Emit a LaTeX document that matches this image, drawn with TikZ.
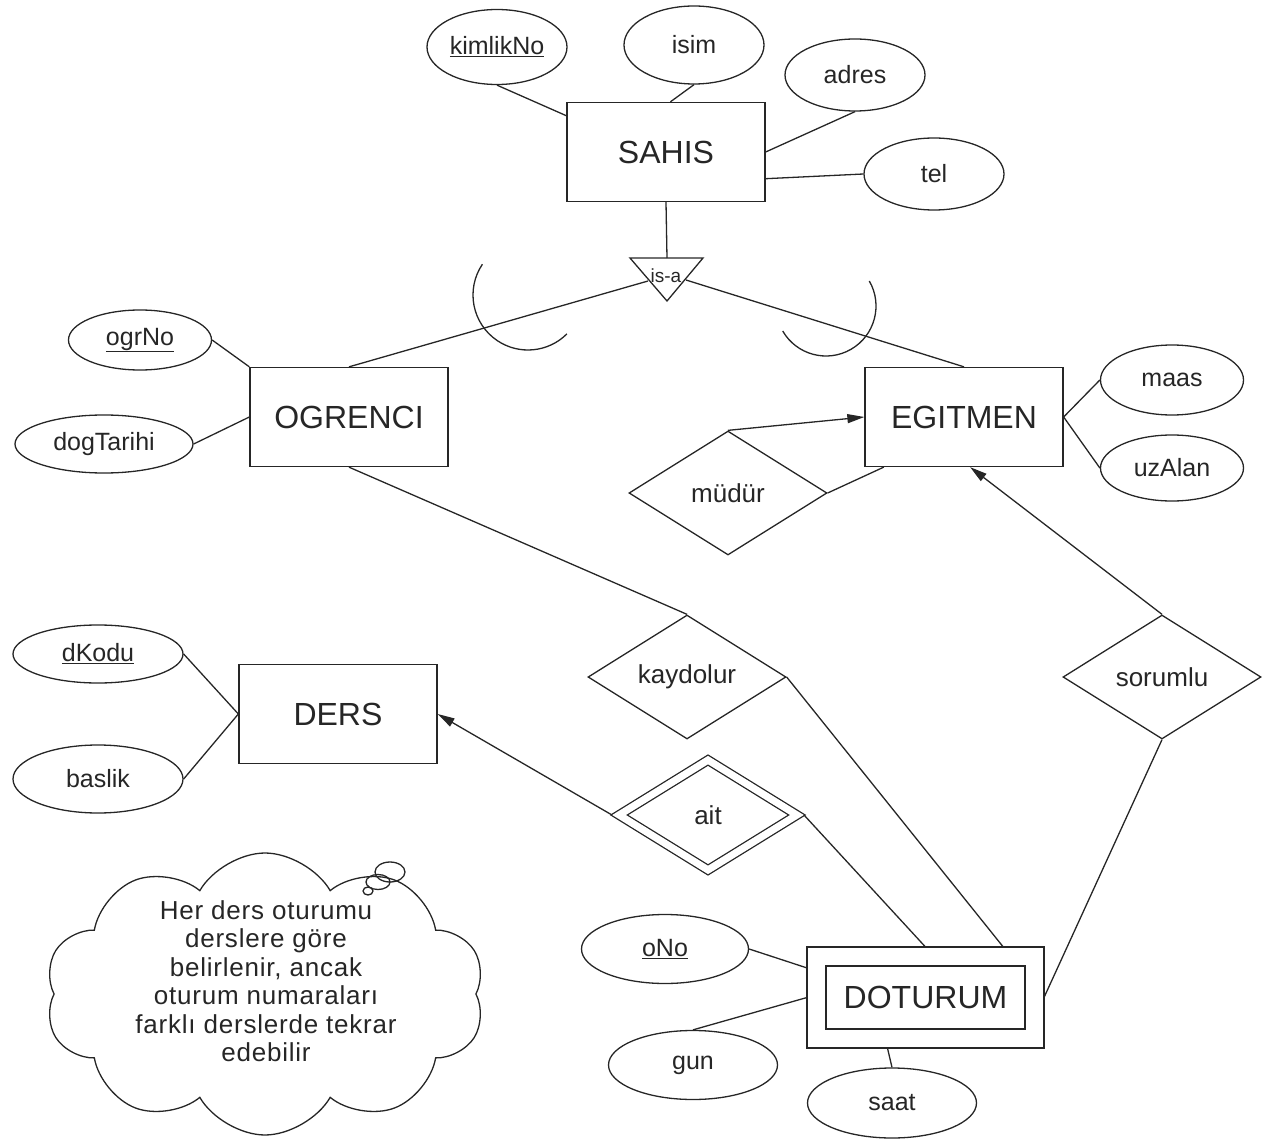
\documentclass[tikz,border=0pt]{standalone}
\usepackage{fontspec}
\setmainfont{Liberation Sans}
\usetikzlibrary{shapes.geometric}
\usetikzlibrary{shapes.symbols}
\usetikzlibrary{arrows.meta}

\tikzset{
  entity/.style={draw, rectangle, minimum width=198, minimum height=99, inner sep=0,
    font=\fontsize{32}{36}\selectfont},
  attr/.style={draw, ellipse, minimum width=140, minimum height=70, inner sep=0,
    font=\fontsize{25}{30}\selectfont},
  rel/.style={draw, diamond, minimum width=198, minimum height=124, inner sep=0,
    font=\fontsize{26}{30}\selectfont},
}

\begin{document}
\begin{tikzpicture}[x=1pt,y=-1pt,line width=1.3pt,color=black!85,
    >={Triangle[length=17pt,width=9pt]}]
        \useasboundingbox (0,0) rectangle (1270,1142);

        % draw the entities
        \node[entity] (SAHIS)   at (666,152) {SAHIS};
        \node[entity] (OGRENCI) at (349,417) {OGRENCI};
        \node[entity] (EGITMEN) at (964,417) {EGITMEN};
        \node[entity] (DERS)    at (338,714) {DERS};
        \node[entity, double, double distance=17.7, minimum width=218,
              minimum height=82, outer sep=9.5] (DOTURUM) at (925.5,997.5) {DOTURUM};

        % draw the attributes
        \node[attr, minimum height=75] (kimlikNo) at (497,47)  {\underline{kimlikNo}};
        \node[attr, minimum height=78] (isim)     at (694,45)  {isim};
        \node[attr, minimum height=72] (adres)    at (855,75)  {adres};
        \node[attr, minimum height=72] (tel)      at (934,174) {tel};
        \node[attr, minimum width=143, minimum height=60] (ogrNo) at (140,340) {\underline{ogrNo}};
        \node[attr, minimum width=178, minimum height=58] (dogTarihi) at (104,444) {dogTarihi};
        \node[attr, minimum width=143] (maas)   at (1172,380) {maas};
        \node[attr, minimum width=143, minimum height=66] (uzAlan) at (1172,468) {uzAlan};
        \node[attr, minimum width=170, minimum height=58] (dKodu)  at (98,654) {\underline{dKodu}};
        \node[attr, minimum width=170, minimum height=68] (baslik) at (98,779) {baslik};
        \node[attr, minimum width=167, minimum height=69] (oNo)  at (665,949)  {\underline{oNo}};
        \node[attr, minimum width=169, minimum height=69] (gun)  at (693,1065) {gun};
        \node[attr, minimum width=169, minimum height=70] (saat) at (892,1103) {saat};

        % draw the relationships
        \node[rel] (mudur)    at (728,493)  {müdür};
        \node[rel] (kaydolur) at (687,677)  {kaydolur};
        \node[rel] (sorumlu)  at (1162,677) {sorumlu};
        \node[rel, double, double distance=7.2, minimum width=182,
              minimum height=114, outer sep=5] (ait) at (708,815) {ait};

        % the is-a triangle
        \draw (630,258) coordinate (isaA) -- (703,258) coordinate (isaB)
              -- (667,301) coordinate (isaC) -- cycle;
        \node[font=\fontsize{19}{22}\selectfont, inner sep=0] (isa) at (666,276) {is-a};
        \coordinate (isaTop) at (667,258);
        \coordinate (isaL) at (648,281);
        \coordinate (isaR) at (686,280);
        \draw (SAHIS.south) -- (isaTop);
        \draw (isaL) -- (OGRENCI.north);
        \draw (isaR) -- (EGITMEN.north);
        % the two arcs on the is-a lines
        \draw ([shift={(-146:55)}]528,295) arc[start angle=-146, end angle=-315, radius=55];
        \draw ([shift={(-30:50)}]826,306) arc[start angle=-30, end angle=150, radius=50];

        % lines from attributes to entities
        \foreach \a/\b in {kimlikNo.south/SAHIS.160, isim.south/SAHIS.85,
                           adres.south/SAHIS.east, tel.west/SAHIS.-15,
                           ogrNo.east/OGRENCI.north west, dogTarihi.east/OGRENCI.west,
                           maas.west/EGITMEN.east, uzAlan.west/EGITMEN.east,
                           dKodu.east/DERS.west, baslik.east/DERS.west,
                           oNo.east/DOTURUM.166, gun.north/DOTURUM.west,
                           saat.north/DOTURUM.-127}
                \draw (\a) -- (\b);

        % lines of the relationships
        \draw[->] (mudur.north) -- (EGITMEN.west);
        \draw (mudur.east) -- (EGITMEN.212);
        \draw (OGRENCI.south) -- (kaydolur.north);
        \draw (kaydolur.east) -- (DOTURUM.33);
        \draw[->] (sorumlu.north) -- (EGITMEN.-83);
        \draw (sorumlu.south) -- (DOTURUM.east);
        \draw[->] (ait.west) -- (DERS.east);
        \draw (ait.east) -- (DOTURUM.north);

        % the note cloud
        \node[cloud, draw, cloud puffs=10, cloud puff arc=120, cloud ignores aspect,
              minimum width=440, minimum height=282] (bulut) at (265,994) {};
        \node[align=center, font=\fontsize{26}{28.5}\selectfont\addfontfeature{LetterSpace=3}]
              (not) at (266,981)
              {Her ders oturumu\\derslere göre\\belirlenir, ancak\\oturum numaraları\\farklı derslerde tekrar\\edebilir};
        \draw (390,872) ellipse[x radius=15, y radius=10];
        \draw (378,882) ellipse[x radius=12, y radius=7.5];
        \draw (368,891) ellipse[x radius=5, y radius=4];
\end{tikzpicture}
\end{document}
